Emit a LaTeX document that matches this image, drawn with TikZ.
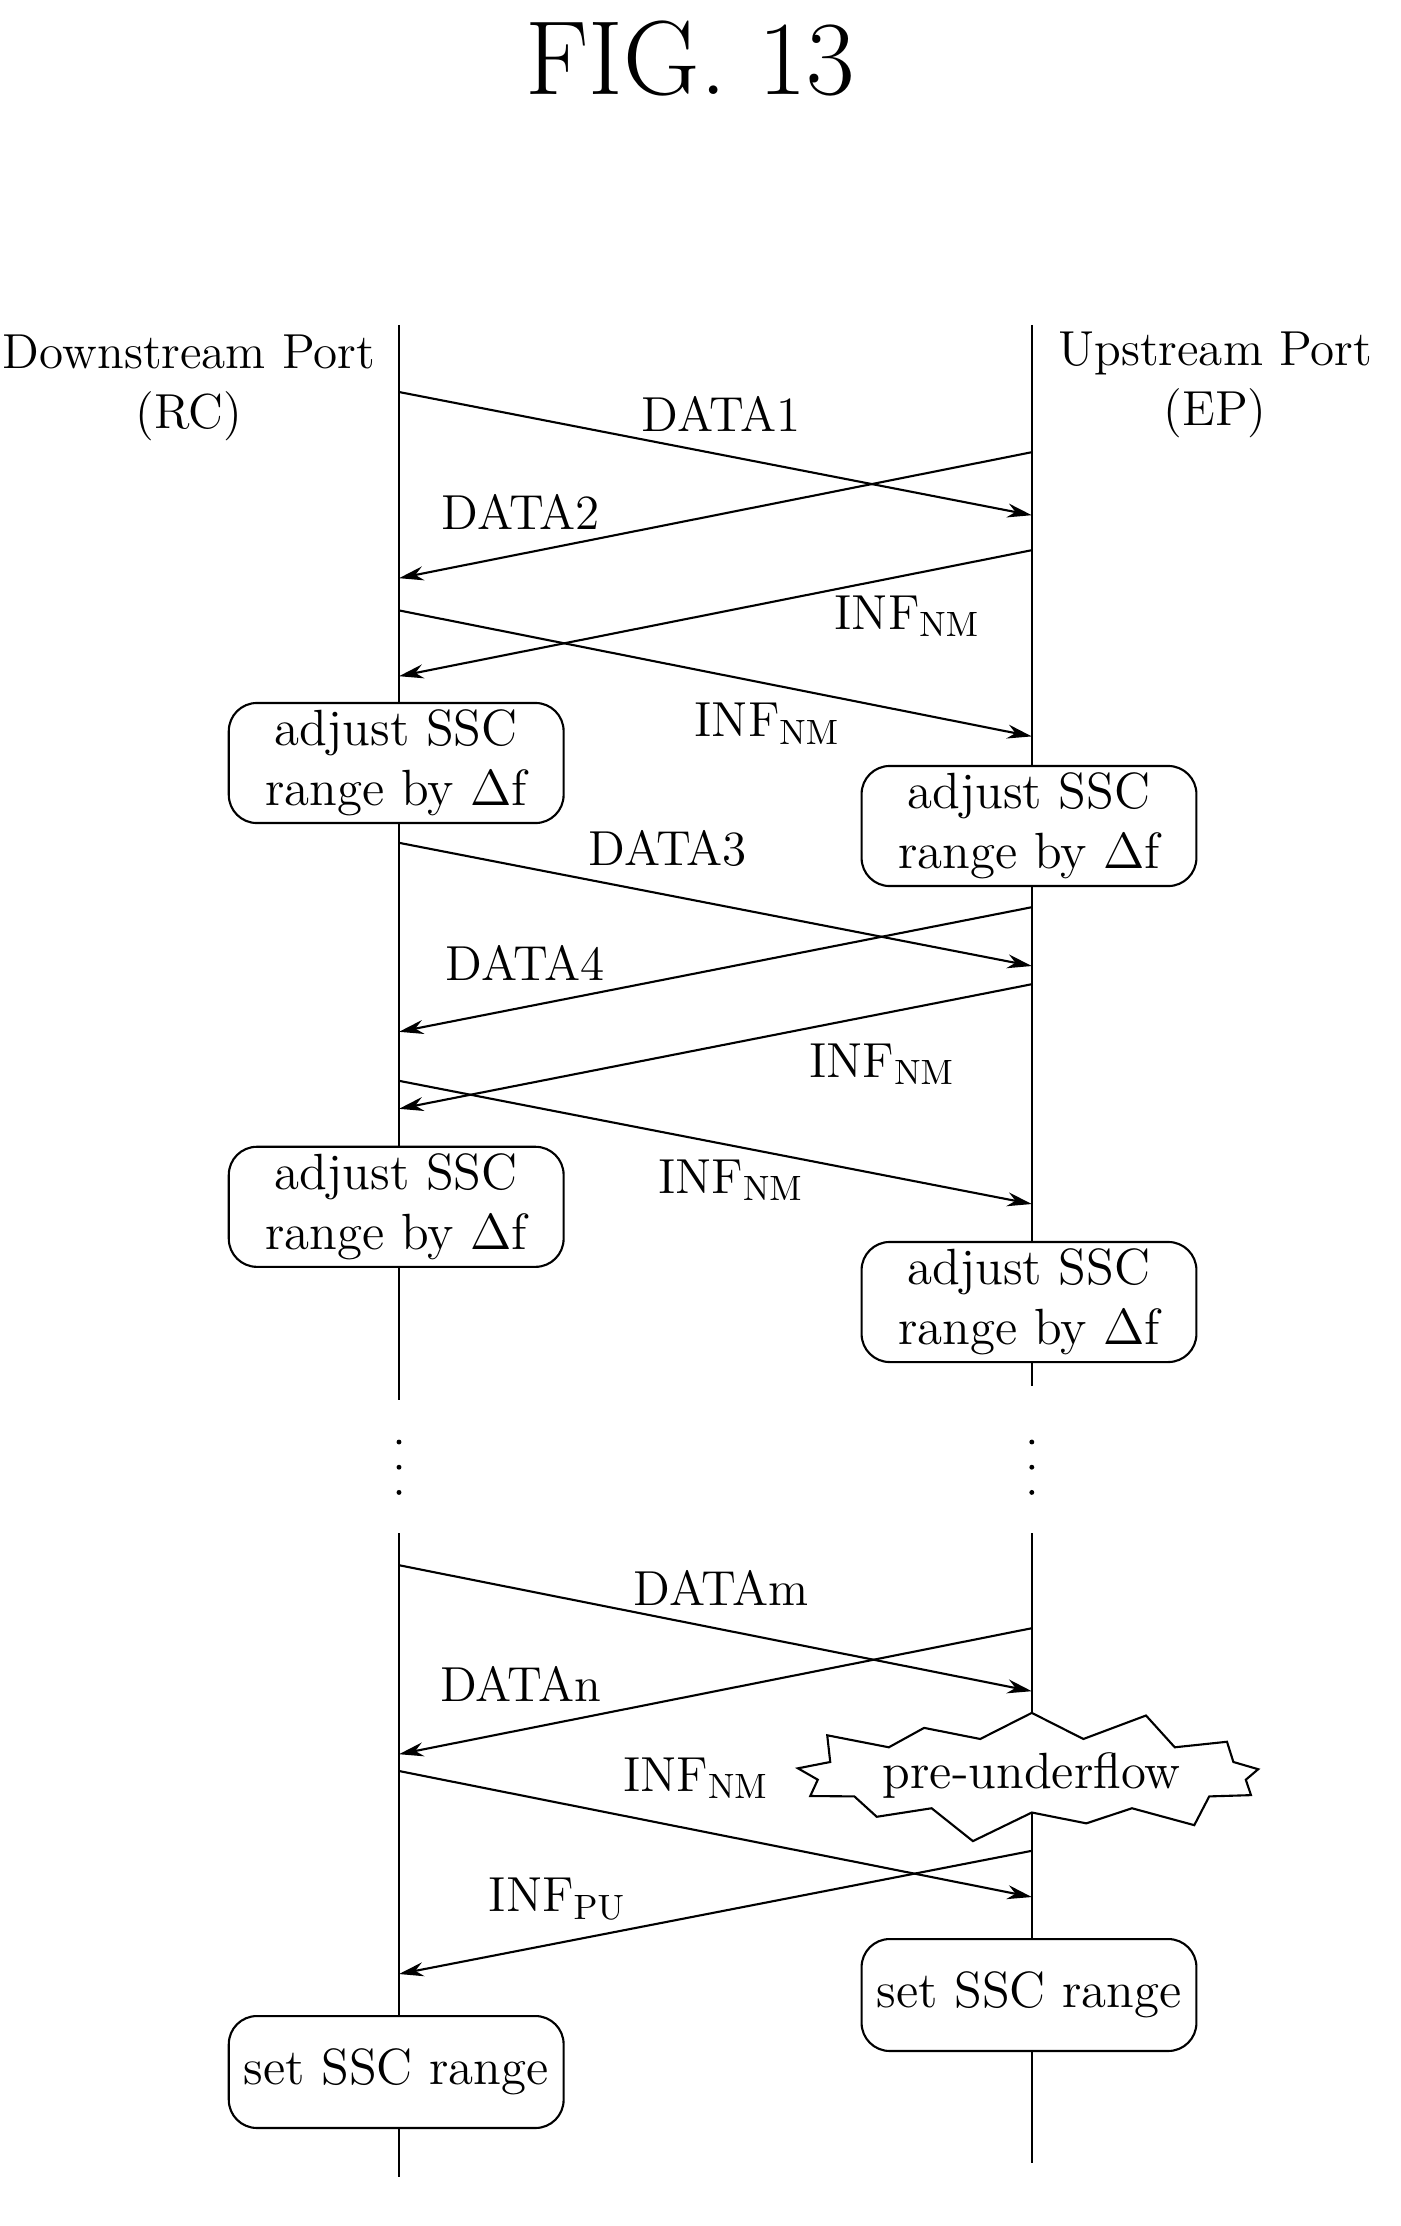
\documentclass[tikz,border=0pt]{standalone}
\usetikzlibrary{arrows.meta,shapes.symbols}
\tikzset{
  lifeline/.style={line width=0.6pt},
  msg/.style={line width=0.6pt,-{Stealth[length=7pt,width=4pt]}},
  lbl/.style={font=\fontsize{14}{17}\selectfont},
  action/.style={draw,rounded corners=8pt,line width=0.6pt,fill=white,
    minimum width=3.35cm,minimum height=1.12cm,align=center,
    font=\fontsize{14.5}{17}\selectfont,inner sep=2pt},
  burst/.style={starburst,starburst points=13,starburst point height=0.35cm,
    draw,line width=0.6pt,fill=white,font=\fontsize{14.5}{18}\selectfont,
    minimum width=3.9cm,minimum height=1.0cm,inner sep=1pt}
}
\begin{document}
\begin{tikzpicture}[x=0.014cm,y=-0.014cm]
\useasboundingbox (0,0) rectangle (1000,1590);
% title
\node (title) at (493,42) {\fontsize{30}{36}\selectfont FIG. 13};
% lifelines
\draw[lifeline] (285,232) -- (285,1000);
\draw[lifeline] (737,232) -- (737,990);
\draw[lifeline] (285,1095) -- (285,1555);
\draw[lifeline] (737,1095) -- (737,1545);
\foreach \x in {285,737}
  \foreach \y in {1030,1048,1066}
    \fill (\x,\y) circle (0.7pt);
\node[lbl,align=center] (rc) at (135,277) {Downstream Port\\(RC)};
\node[lbl,align=center] (ep) at (868,275) {Upstream Port\\(EP)};
% end points on the lifelines
\coordinate (a1) at (285,280);  \coordinate (b1) at (737,368);
\coordinate (b2) at (737,323);  \coordinate (a2) at (285,413);
\coordinate (b3) at (737,393);  \coordinate (a3) at (285,483);
\coordinate (a4) at (285,436);  \coordinate (b4) at (737,526);
\coordinate (a5) at (285,602);  \coordinate (b5) at (737,690);
\coordinate (b6) at (737,648);  \coordinate (a6) at (285,737);
\coordinate (b7) at (737,703);  \coordinate (a7) at (285,792);
\coordinate (a8) at (285,772);  \coordinate (b8) at (737,860);
\coordinate (a9) at (285,1118); \coordinate (b9) at (737,1208);
\coordinate (b10) at (737,1163); \coordinate (a10) at (285,1253);
\coordinate (a11) at (285,1265); \coordinate (b11) at (737,1355);
\coordinate (b12) at (737,1322); \coordinate (a12) at (285,1410);
% messages
\draw[msg] (a1) -- (b1);
\draw[msg] (b2) -- (a2);
\draw[msg] (b3) -- (a3);
\draw[msg] (a4) -- (b4);
\draw[msg] (a5) -- (b5);
\draw[msg] (b6) -- (a6);
\draw[msg] (b7) -- (a7);
\draw[msg] (a8) -- (b8);
\draw[msg] (a9) -- (b9);
\draw[msg] (b10) -- (a10);
\draw[msg] (a11) -- (b11);
\draw[msg] (b12) -- (a12);
\node[lbl] (l1) at (515,296) {DATA1};
\node[lbl] (l2) at (372,366) {DATA2};
\node[lbl] (l3) at (648,440) {INF$_{\mathrm{NM}}$};
\node[lbl] (l4) at (548,517) {INF$_{\mathrm{NM}}$};
\node[lbl] (l5) at (477,606) {DATA3};
\node[lbl] (l6) at (375,688) {DATA4};
\node[lbl] (l7) at (630,760) {INF$_{\mathrm{NM}}$};
\node[lbl] (l8) at (522,843) {INF$_{\mathrm{NM}}$};
\node[lbl] (l9) at (515,1134) {DATAm};
\node[lbl] (l10) at (372,1203) {DATAn};
\node[lbl] (l11) at (497,1270) {INF$_{\mathrm{NM}}$};
\node[lbl] (l12) at (398,1356) {INF$_{\mathrm{PU}}$};
% processing actions
\node[action] (adj1) at (283,545) {adjust SSC\\range by $\Delta$f};
\node[action] (adj2) at (735,590) {adjust SSC\\range by $\Delta$f};
\node[action] (adj3) at (283,862) {adjust SSC\\range by $\Delta$f};
\node[action] (adj4) at (735,930) {adjust SSC\\range by $\Delta$f};
\node[burst] (pre) at (737,1268) {pre-underflow};
\node[action] (set1) at (735,1425) {set SSC range};
\node[action] (set2) at (283,1480) {set SSC range};
\end{tikzpicture}
\end{document}
